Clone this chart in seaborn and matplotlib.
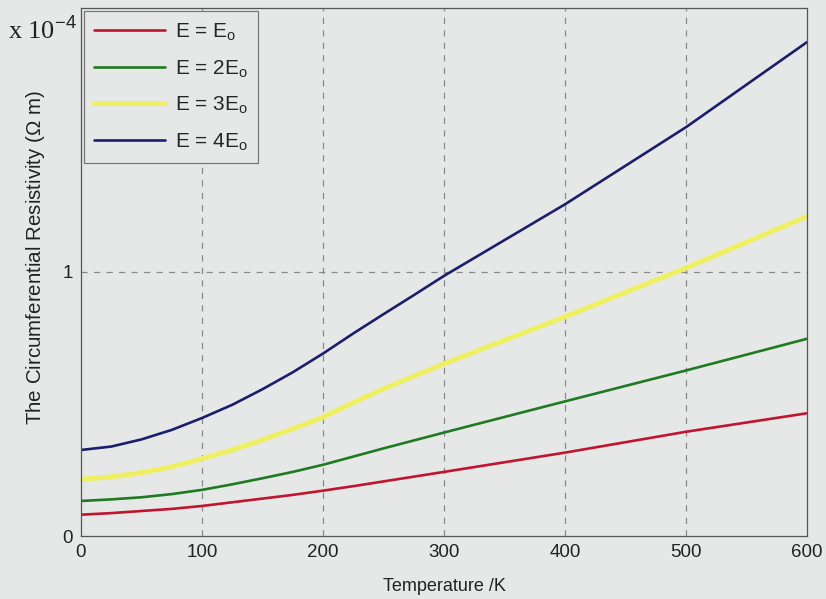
import numpy as np
import pandas as pd
import matplotlib
matplotlib.use("Agg")
import matplotlib.pyplot as plt
import seaborn as sns

# Temperature (K)
temperature = [0, 25, 50, 75, 100, 125, 150, 175, 200, 225, 250, 275, 300,
               400, 500, 600]
# Circumferential resistivity, in units of 1e-4 Ohm m
rho_E1 = [0.081, 0.087, 0.095, 0.103, 0.114, 0.128, 0.142, 0.156, 0.172,
          0.189, 0.207, 0.225, 0.243, 0.316, 0.395, 0.465]
rho_E2 = [0.133, 0.139, 0.147, 0.159, 0.175, 0.196, 0.219, 0.243, 0.270,
          0.301, 0.332, 0.362, 0.392, 0.510, 0.627, 0.747]
rho_E3 = [0.215, 0.224, 0.240, 0.262, 0.293, 0.326, 0.364, 0.406, 0.450,
          0.505, 0.557, 0.605, 0.652, 0.830, 1.015, 1.210]
rho_E4 = [0.326, 0.339, 0.366, 0.402, 0.447, 0.497, 0.556, 0.620, 0.691,
          0.767, 0.840, 0.912, 0.985, 1.256, 1.548, 1.870]

labels = [r"E = E$_\mathregular{o}$", r"E = 2E$_\mathregular{o}$",
          r"E = 3E$_\mathregular{o}$", r"E = 4E$_\mathregular{o}$"]
series = [rho_E1, rho_E2, rho_E3, rho_E4]
colors = ["#c0142f", "#1f7a22", "#eef062", "#1b1f6b"]
widths = [1.9, 1.9, 3.6, 1.9]

x_ticks = [0, 100, 200, 300, 400, 500, 600]
y_ticks = [0, 1]

bg = "#e6e8e8"
sns.set_theme(style="white")
plt.rcParams["font.family"] = ["Liberation Sans", "DejaVu Sans"]
plt.rcParams["mathtext.fontset"] = "custom"
plt.rcParams["mathtext.rm"] = "Liberation Sans"

fig = plt.figure(figsize=(8.26, 5.99), dpi=100, facecolor=bg)
ax = fig.add_axes([0.098, 0.105, 0.879, 0.882], facecolor=bg)

df = pd.DataFrame({"T": np.tile(temperature, 4),
                   "rho": np.concatenate(series),
                   "case": np.repeat(labels, len(temperature))})
for lab, col, lw in zip(labels, colors, widths):
    sub = df[df["case"] == lab]
    sns.lineplot(data=sub, x="T", y="rho", ax=ax, color=col, lw=lw, label=lab)

ax.set_xlim(0, 600)
ax.set_ylim(0, 2)
ax.set_xticks(x_ticks)
ax.set_yticks(y_ticks)
ax.tick_params(axis="both", labelsize=13.5, colors="#222222", direction="in",
               length=5, width=0.8, pad=6)
for s in ax.spines.values():
    s.set_color("#555555")
    s.set_linewidth(0.9)
for xv in x_ticks[1:-1]:
    ax.axvline(xv, color="#8a8a8a", lw=0.9, ls=(0, (5, 5)), zorder=0)
ax.axhline(1, color="#8a8a8a", lw=0.9, ls=(0, (5, 5)), zorder=0)

ax.set_xlabel("Temperature /K", fontsize=13, color="#222222", labelpad=12)
ax.set_ylabel(r"The Circumferential Resistivity ($\Omega$ m)", fontsize=14.8,
              color="#222222")
ax.yaxis.set_label_coords(-0.047, 0.527)

fig.text(0.01, 1 - 30 / 599, r"x 10$^{-4}$", family="Liberation Serif",
         fontsize=19, va="center", ha="left", color="#222222")

leg = ax.legend(loc="upper left", fontsize=15, frameon=True, fancybox=False,
                handlelength=3.4, labelspacing=0.72, borderpad=0.5,
                borderaxespad=0.15, handletextpad=0.45)
leg.get_frame().set_facecolor(bg)
leg.get_frame().set_edgecolor("#777777")
leg.get_frame().set_alpha(1)
leg.get_frame().set_linewidth(0.9)

fig.savefig("out.png", dpi=100, facecolor=bg)
